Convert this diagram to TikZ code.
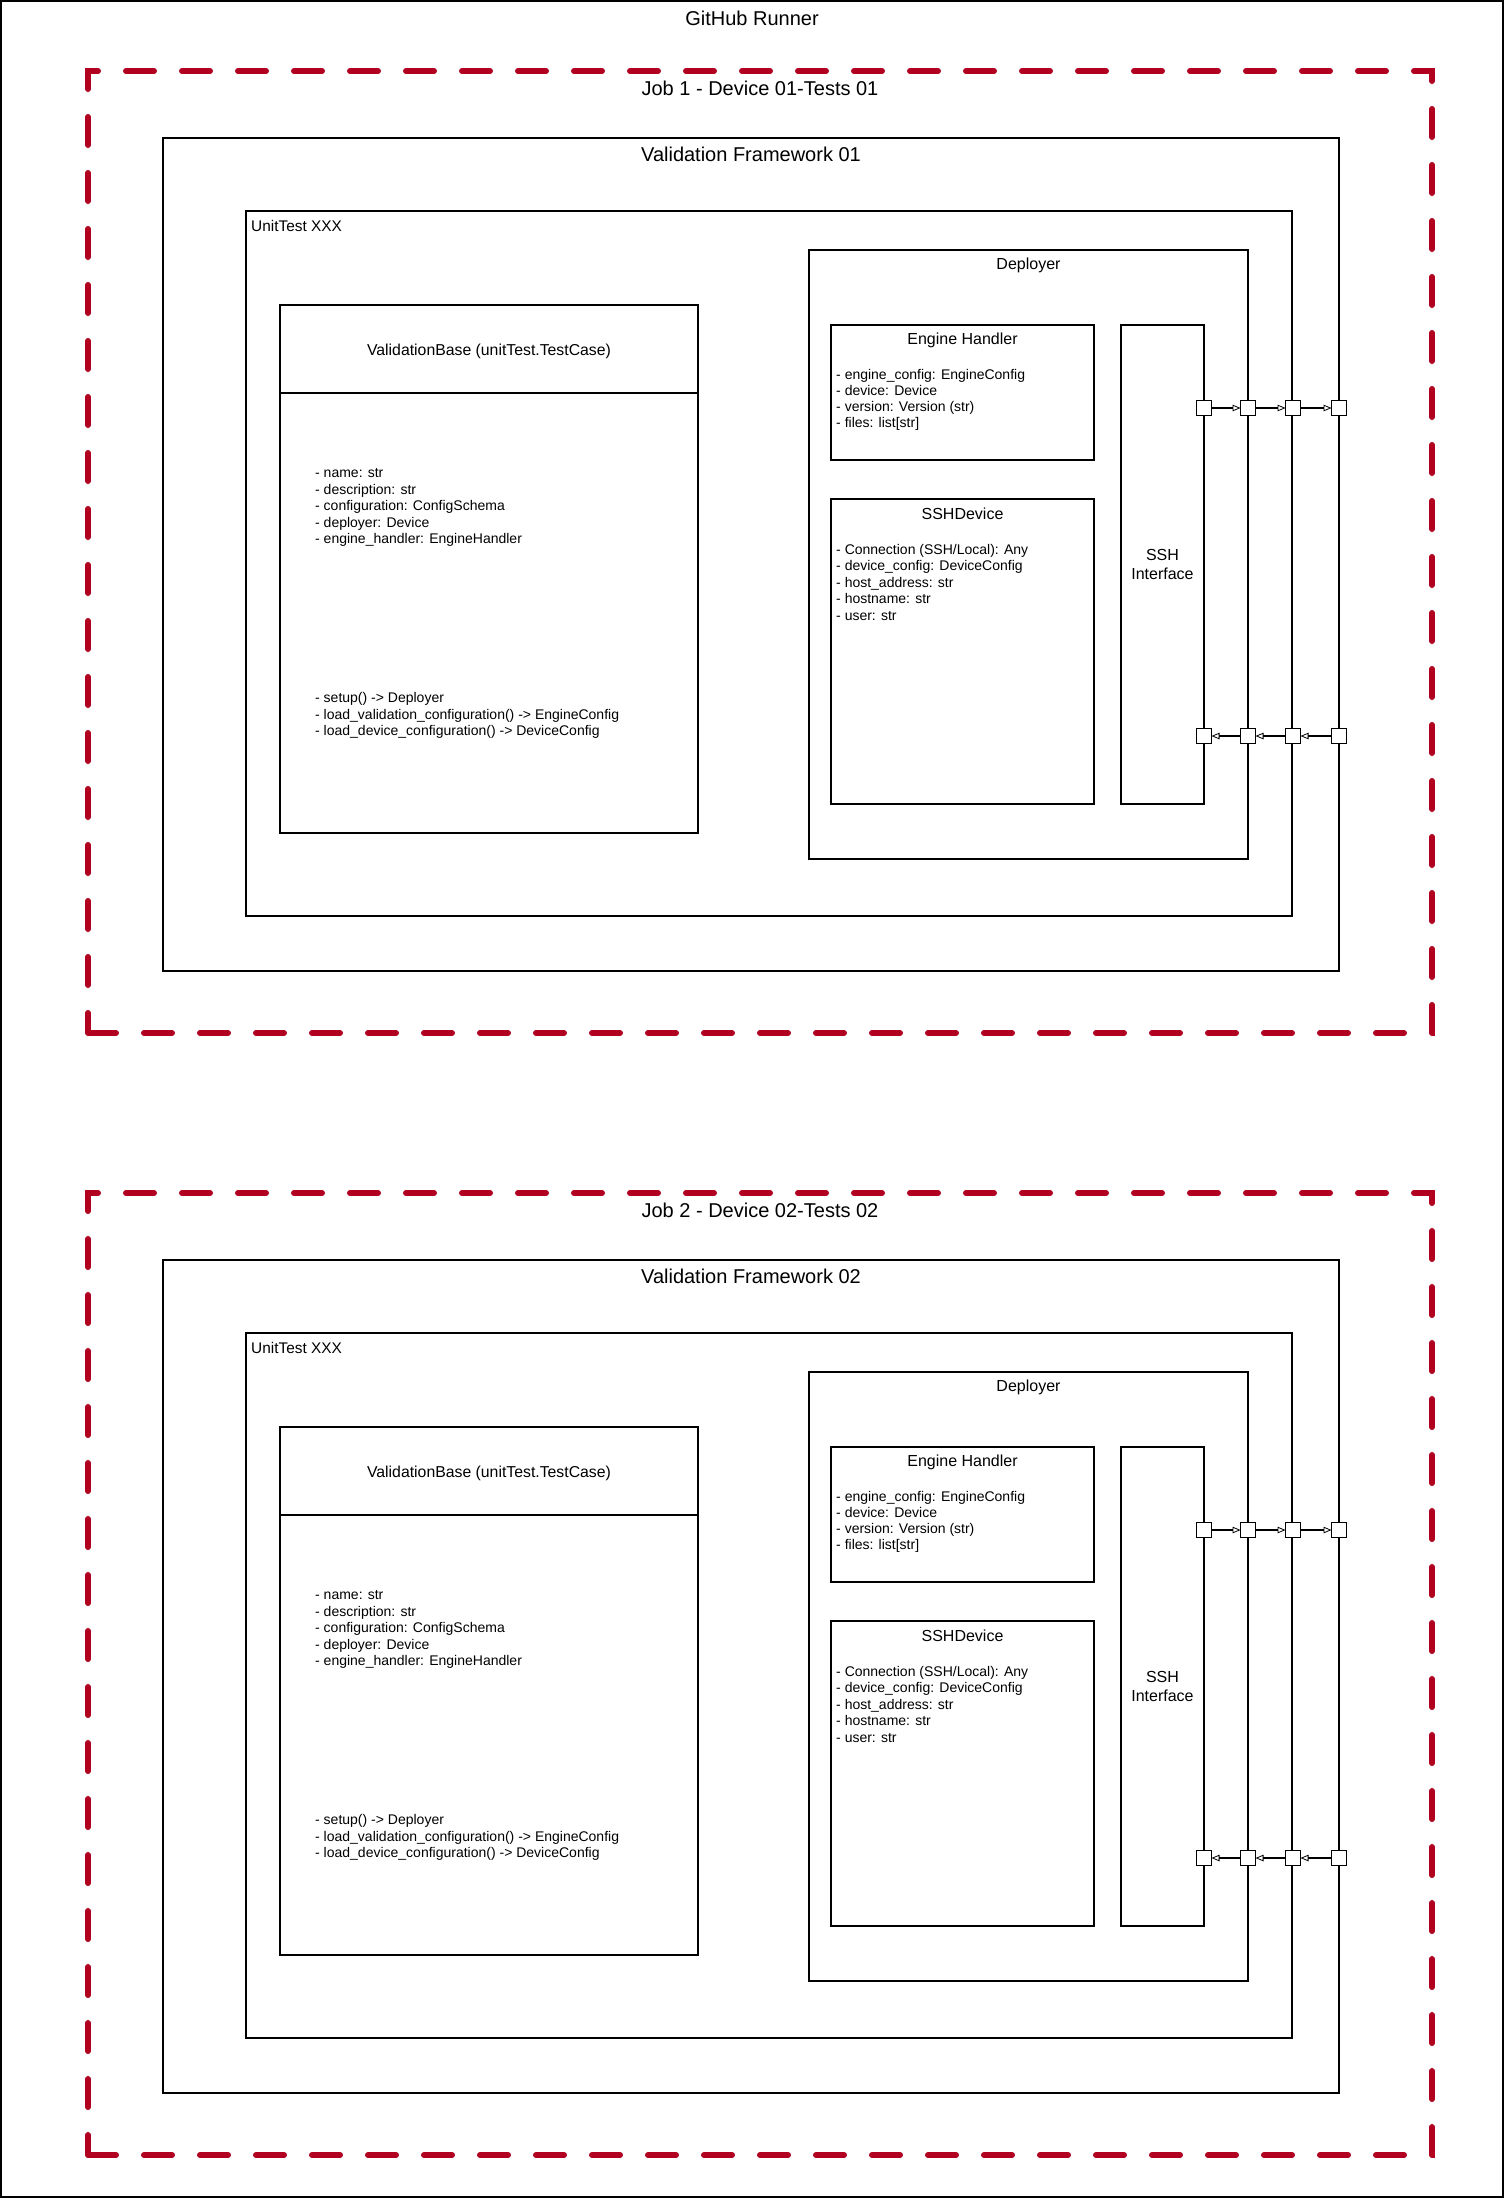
\documentclass[tikz,border=0pt]{standalone}
\usepackage{fontspec}
\setmainfont{Liberation Sans}
\usetikzlibrary{arrows.meta}
\definecolor{jobred}{RGB}{178,0,32}
\tikzset{
  box/.style={draw, line width=1.4pt, inner sep=0pt, outer sep=0pt, anchor=north west},
  jobbox/.style={draw=jobred, line width=6pt, dash pattern=on 28pt off 28pt, line cap=round, inner sep=0pt, outer sep=0pt, anchor=north west},
  port/.style={draw, fill=white, line width=1.4pt, minimum size=15pt, inner sep=0pt, outer sep=0pt},
  conn/.style={line width=1.2pt, -{Triangle[open,length=8pt,width=6.5pt,line width=0.8pt]}},
  bigtitle/.style={font=\fontsize{20}{24}\selectfont, anchor=base, inner sep=0pt},
  midtitle/.style={font=\fontsize{16}{19}\selectfont, anchor=base, inner sep=0pt},
  uttitle/.style={font=\fontsize{15.4}{18}\selectfont, anchor=base west, inner sep=0pt},
  vbtitle/.style={font=\fontsize{15.8}{18}\selectfont, anchor=base, inner sep=0pt},
  attr/.style={font=\fontsize{14}{16}\selectfont, anchor=base west, inner sep=0pt},
}
\newcommand\boxnode[5]{\node[box, minimum width=#4, minimum height=#5] (#1) at (#2,#3) {};}
\newcommand\drawjob[2]{%
\begin{scope}[shift={(0,#2)}]
  \node[jobbox, minimum width=1344, minimum height=962] (job#1) at (88,71) {};
  \node[bigtitle] (jobt#1) at (760,95) {Job #1 - Device 0#1-Tests 0#1};
  \boxnode{vf#1}{163}{138}{1176}{833}
  \node[bigtitle] (vft#1) at (751,161) {Validation Framework 0#1};
  \boxnode{ut#1}{246}{211}{1046}{705}
  \node[uttitle] (utt#1) at (251,231) {UnitTest XXX};
  % ValidationBase
  \boxnode{vb#1}{280}{305}{418}{528}
  \coordinate (vbdl#1) at (280,393);
  \coordinate (vbdr#1) at (698,393);
  \draw[line width=1.4pt] (vbdl#1) -- (vbdr#1);
  \node[vbtitle] (vbt#1) at (489,355) {ValidationBase (unitTest.TestCase)};
  \foreach \t [count=\i from 0] in {{- name: str},{- description: str},{- configuration: ConfigSchema},{- deployer: Device},{- engine\_handler: EngineHandler}}
    \node[attr] (vba#1-\i) at (315,477.5+16.6*\i) {\t};
  \foreach \t [count=\i from 0] in {{- setup() -> Deployer},{- load\_validation\_configuration() -> EngineConfig},{- load\_device\_configuration() -> DeviceConfig}}
    \node[attr] (vbm#1-\i) at (315,702.5+16.6*\i) {\t};
  % Deployer
  \boxnode{dep#1}{809}{250}{439}{609}
  \node[midtitle] (dept#1) at (1028.5,269) {Deployer};
  \boxnode{eh#1}{831}{325}{263}{135}
  \node[midtitle] (eht#1) at (962.5,344) {Engine Handler};
  \foreach \t [count=\i from 0] in {{- engine\_config: EngineConfig},{- device: Device},{- version: Version (str)},{- files: list[str]}}
    \node[attr] (eha#1-\i) at (836,379+16.3*\i) {\t};
  \boxnode{sshd#1}{831}{499}{263}{305}
  \node[midtitle] (sshdt#1) at (962.5,519) {SSHDevice};
  \foreach \t [count=\i from 0] in {{- Connection (SSH/Local): Any},{- device\_config: DeviceConfig},{- host\_address: str},{- hostname: str},{- user: str}}
    \node[attr] (sshda#1-\i) at (836,554+16.5*\i) {\t};
  \boxnode{sshi#1}{1121}{325}{83}{479}
  \node[midtitle] (sshia#1) at (1162.5,560) {SSH};
  \node[midtitle] (sshib#1) at (1162.5,579) {Interface};
  % ports
  \node[port] (pa1#1) at (1204,408) {};
  \node[port] (pa2#1) at (1248,408) {};
  \node[port] (pa3#1) at (1293,408) {};
  \node[port] (pa4#1) at (1339,408) {};
  \node[port] (pb1#1) at (1204,736) {};
  \node[port] (pb2#1) at (1248,736) {};
  \node[port] (pb3#1) at (1293,736) {};
  \node[port] (pb4#1) at (1339,736) {};
  \draw[conn] (pa1#1) -- (pa2#1);
  \draw[conn] (pa2#1) -- (pa3#1);
  \draw[conn] (pa3#1) -- (pa4#1);
  \draw[conn] (pb4#1) -- (pb3#1);
  \draw[conn] (pb3#1) -- (pb2#1);
  \draw[conn] (pb2#1) -- (pb1#1);
\end{scope}}
\begin{document}
\begin{tikzpicture}[x=1pt,y=-1pt]
  \useasboundingbox (0,0) rectangle (1504,2198);
  \node[box, minimum width=1502, minimum height=2196] (runner) at (1,1) {};
  \node[bigtitle] (runnert) at (752,25) {GitHub Runner};
  \drawjob{1}{0}
  \drawjob{2}{1122}
\end{tikzpicture}
\end{document}
